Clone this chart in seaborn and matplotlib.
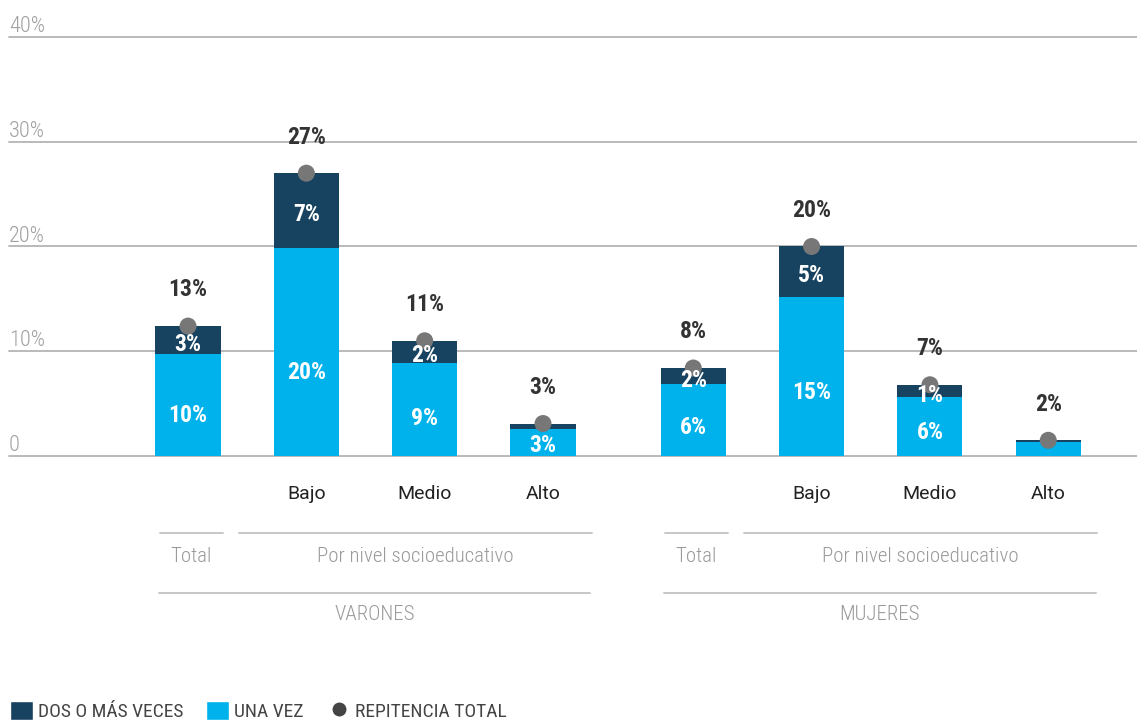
import seaborn as sns
import matplotlib.pyplot as plt
import matplotlib.transforms as mtransforms
from matplotlib import font_manager
from matplotlib.patches import Patch
from matplotlib.lines import Line2D
import pandas as pd
import numpy as np

sns.set_style("white")

# pick a narrow font if one is installed
installed = {f.name for f in font_manager.fontManager.ttflist}
COND = next((f for f in ["Roboto Condensed", "Liberation Sans Narrow", "DejaVu Sans"] if f in installed), "DejaVu Sans")
REG = "Roboto" if "Roboto" in installed else "DejaVu Sans"
plt.rcParams['font.family'] = [COND, 'DejaVu Sans']

# data (percent of students)
grupos = ["VARONES"] * 4 + ["MUJERES"] * 4
niveles = ["Total", "Bajo", "Medio", "Alto", "Total", "Bajo", "Medio", "Alto"]
una_vez = [9.7, 19.9, 8.9, 2.6, 6.9, 15.2, 5.6, 1.3]
dos_o_mas = [2.7, 7.1, 2.1, 0.5, 1.5, 4.8, 1.2, 0.2]
repitencia_total = [12.4, 27.0, 11.0, 3.1, 8.4, 20.0, 6.8, 1.5]
lbl_una = ["10%", "20%", "9%", "3%", "6%", "15%", "6%", ""]
lbl_dos = ["3%", "7%", "2%", "", "2%", "5%", "1%", ""]
lbl_total = ["13%", "27%", "11%", "3%", "8%", "20%", "7%", "2%"]
y_ticks = [0, 10, 20, 30, 40]
y_tick_labels = ["0", "10%", "20%", "30%", "40%"]

NAVY = "#174360"
BLUE = "#00B2EB"
DOT = "#777777"
GRID = "#b4b4b4"

df = pd.DataFrame({"grupo": grupos, "nivel": niveles, "una": una_vez,
                   "dos": dos_o_mas, "total": repitencia_total})
# small extra gap between the two groups
df["pos"] = np.arange(len(df)) + np.where(df["grupo"] == "MUJERES", 0.27, 0.0)
df["tope"] = df["una"] + df["dos"]

fig = plt.figure(figsize=(11.37, 7.22), dpi=100)
ax = fig.add_axes([9 / 1137, 266 / 722, 1128 / 1137, 419 / 722])

sns.barplot(data=df, x="pos", y="tope", native_scale=True, color=NAVY,
            saturation=1, width=0.55, errorbar=None, linewidth=0, ax=ax, zorder=2)
sns.barplot(data=df, x="pos", y="una", native_scale=True, color=BLUE,
            saturation=1, width=0.55, errorbar=None, linewidth=0, ax=ax, zorder=2)
sns.scatterplot(data=df, x="pos", y="total", color=DOT, s=150,
                edgecolor="none", ax=ax, zorder=4, legend=False)

ax.set_xlim(-1.513, 8.02)
ax.set_ylim(0, 40)
ax.set_xlabel("")
ax.set_ylabel("")
sns.despine(ax=ax, left=True, bottom=True)

# grid + y labels sitting above the lines
ax.set_axisbelow(True)
ax.set_yticks(y_ticks, y_tick_labels)
ax.yaxis.grid(True, color=GRID, lw=1.3)
for gl in ax.get_ygridlines():
    gl.set_clip_on(False)
ax.tick_params(axis="y", length=0, pad=0, labelsize=16, labelcolor="#a0a0a0")
for t in ax.get_yticklabels():
    t.set_ha("left")
    t.set_va("bottom")
    t.set_fontweight("light")

# category ticks
ax.set_xticks(df["pos"], [n if n != "Total" else "" for n in df["nivel"]])
ax.tick_params(axis="x", length=0, pad=21, labelsize=14, labelcolor="#222222")
for t in ax.get_xticklabels():
    t.set_fontfamily(REG)

# value labels
for i, r in df.iterrows():
    ax.annotate(lbl_total[i], (r["pos"], r["total"]), xytext=(0, 26),
                textcoords="offset points", ha="center", va="center",
                fontsize=17, fontweight="bold", color="#333333", zorder=5)
    if lbl_una[i]:
        ax.text(r["pos"], r["una"] * 0.4, lbl_una[i], ha="center", va="center",
                fontsize=17, fontweight="bold", color="white", zorder=5)
    if lbl_dos[i]:
        ax.annotate(lbl_dos[i], (r["pos"], (r["una"] + r["tope"]) / 2),
                    xytext=(0, -3), textcoords="offset points", ha="center",
                    va="center", fontsize=17, fontweight="bold", color="white",
                    zorder=5)

# group brackets below the axis
base = mtransforms.blended_transform_factory(ax.transData, ax.transAxes)


def below(pt):
    return base + mtransforms.ScaledTranslation(0, -pt / 72, fig.dpi_scale_trans)


for g in ["VARONES", "MUJERES"]:
    g0 = df.loc[df["grupo"] == g, "pos"].min()
    spans = [((g0 - 0.24, g0 + 0.295), "Total", 55.4, 72),
             ((g0 + 0.43, g0 + 3.41), "Por nivel socioeducativo", 55.4, 72),
             ((g0 - 0.244, g0 + 3.40), g, 98.6, 113.8)]
    for (x1, x2), txt, yl, yt in spans:
        ax.add_line(Line2D([x1, x2], [0, 0], transform=below(yl), color="#c2c2c2",
                           lw=1.3, clip_on=False))
        ax.text((x1 + x2) / 2, 0, txt, transform=below(yt), ha="center", va="center",
                fontsize=15, fontweight="light", color="#9a9a9a", clip_on=False)

# legend
handles = [Patch(facecolor=NAVY, label="DOS O MÁS VECES"),
           Patch(facecolor=BLUE, label="UNA VEZ"),
           Line2D([], [], marker="o", color="#444444", linestyle="", markersize=9,
                  label="REPITENCIA TOTAL")]
leg = fig.legend(handles=handles, loc="lower left", bbox_to_anchor=(9 / 1137, 0.0),
                 ncol=3, frameon=False, fontsize=14, handlelength=1.18,
                 handleheight=1.18, handletextpad=0.25, columnspacing=1.2,
                 borderaxespad=0, borderpad=0.05)
for t in leg.get_texts():
    t.set_color("#444444")

fig.savefig("out.png", dpi=100)
plt.close(fig)
